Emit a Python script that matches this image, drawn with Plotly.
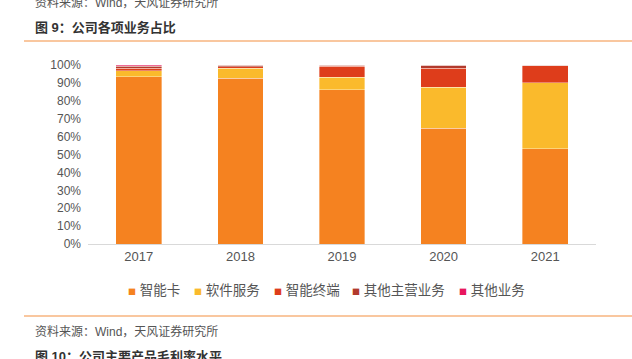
import plotly.graph_objects as go

years = ["2017", "2018", "2019", "2020", "2021"]
series_names = ["智能卡", "软件服务", "智能终端", "其他主营业务", "其他业务"]
smart_card = [0.935, 0.926, 0.862, 0.648, 0.532]
software = [0.032, 0.056, 0.069, 0.229, 0.369]
terminal = [0.015, 0.007, 0.063, 0.104, 0.096]
other_main = [0.012, 0.011, 0.006, 0.019, 0.003]
other = [0.006, 0.000, 0.000, 0.000, 0.000]
colors = ["#F58220", "#FABA2C", "#DE3D1B", "#B23A2D", "#E8175D"]
y_ticks = [0, 0.1, 0.2, 0.3, 0.4, 0.5, 0.6, 0.7, 0.8, 0.9, 1.0]

values = [smart_card, software, terminal, other_main, other]

FONT = "Liberation Sans, Arial, Noto Sans CJK SC, sans-serif"

# plot area in pixels: x 88..596, y 65..244
PX0, PW, PY0, PH = 88, 508, 244, 179
def px(x):
    return (x - PX0) / PW
def py(y):
    return (PY0 - y) / PH

legend_marker_left = [128, 194, 274, 352, 459]

fig = go.Figure()
for name, vals, col in zip(series_names, values, colors):
    fig.add_trace(go.Bar(x=years, y=vals, name=name, marker_color=col,
                         marker_line_color="rgba(255,255,255,0.6)", marker_line_width=0.6,
                         showlegend=False))

legend_layouts = {}
for i, (name, col) in enumerate(zip(series_names, colors)):
    key = "legend" if i == 0 else f"legend{i+1}"
    label = (f"<span style='color:{col};font-size:8px;font-family:Noto Sans CJK SC'>■</span> {name}")
    fig.add_trace(go.Scatter(x=[None], y=[None], mode="markers", name=label,
                             legend=key, showlegend=True,
                             marker=dict(symbol="square", size=1, color="rgba(0,0,0,0)")))
    legend_layouts[key] = dict(
        orientation="h", x=px(legend_marker_left[i] - 40), xanchor="left",
        y=py(290), yanchor="middle", itemwidth=30,
        font=dict(family=FONT, size=13.5, color="#555"),
        bgcolor="rgba(0,0,0,0)", borderwidth=0,
    )

fig.update_layout(
    width=632, height=359,
    barmode="stack", bargap=0.55,
    margin=dict(l=88, r=36, t=65, b=115),
    plot_bgcolor="white", paper_bgcolor="white",
    font=dict(family=FONT, color="#555"),
    xaxis=dict(showline=True, linecolor="#d9d9d9", linewidth=1, ticks="",
               tickfont=dict(size=13, color="#555"), showgrid=False),
    yaxis=dict(range=[0, 1], tickvals=y_ticks, tickformat=".0%", showgrid=False,
               zeroline=False, showline=False, tickfont=dict(size=12, color="#555"),
               ticklabelstandoff=6),
    shapes=[
        dict(type="line", xref="paper", yref="paper", x0=px(24), x1=px(640), y0=py(41), y1=py(41),
             line=dict(color="#F7B47F", width=1.5)),
        dict(type="line", xref="paper", yref="paper", x0=px(24), x1=px(640), y0=py(316), y1=py(316),
             line=dict(color="#F7B47F", width=1.5)),
    ],
    annotations=[
        dict(text="资料来源：Wind，天风证券研究所", xref="paper", yref="paper", x=px(33), y=py(2),
             xanchor="left", yanchor="middle", showarrow=False,
             font=dict(family=FONT, size=12, color="#555")),
        dict(text="<b>图 9：公司各项业务占比</b>", xref="paper", yref="paper", x=px(33), y=py(28),
             xanchor="left", yanchor="middle", showarrow=False,
             font=dict(family=FONT, size=13, color="#333")),
        dict(text="资料来源：Wind，天风证券研究所", xref="paper", yref="paper", x=px(33), y=py(331),
             xanchor="left", yanchor="middle", showarrow=False,
             font=dict(family=FONT, size=12, color="#555")),
        dict(text="<b>图 10：公司主要产品毛利率水平</b>", xref="paper", yref="paper", x=px(33), y=py(356),
             xanchor="left", yanchor="middle", showarrow=False,
             font=dict(family=FONT, size=13, color="#333")),
    ],
)
fig.update_layout(**legend_layouts)

fig.write_html("out.html", config={"displayModeBar": False},
               post_script="document.body.style.margin='0';document.body.style.padding='0';")
